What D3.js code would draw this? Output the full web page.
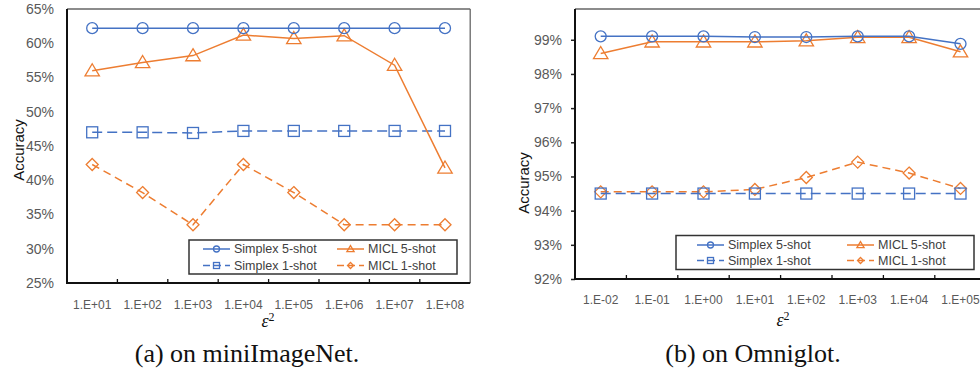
<!DOCTYPE html>
<html><head><meta charset="utf-8">
<script src="https://cdn.jsdelivr.net/npm/d3@7/dist/d3.min.js"></script>
<style>body{margin:0;background:#fff}svg{display:block}</style>
</head><body>
<svg id="c" width="980" height="368"></svg>
<script>
// ---- data ----
const catsA = ["1.E+01","1.E+02","1.E+03","1.E+04","1.E+05","1.E+06","1.E+07","1.E+08"];
const simplex5A = [62.2,62.2,62.2,62.2,62.2,62.2,62.2,62.2];
const micl5A    = [56.0,57.2,58.2,61.2,60.7,61.1,56.8,41.8];
const simplex1A = [47.0,47.0,46.9,47.2,47.2,47.2,47.2,47.2];
const micl1A    = [42.3,38.2,33.5,42.3,38.2,33.5,33.5,33.5];
const yTicksA = [25,30,35,40,45,50,55,60,65];

const catsB = ["1.E-02","1.E-01","1.E+00","1.E+01","1.E+02","1.E+03","1.E+04","1.E+05"];
const simplex5B = [99.10,99.10,99.10,99.08,99.08,99.10,99.10,98.88];
const micl5B    = [98.60,98.94,98.94,98.94,98.97,99.07,99.07,98.65];
const simplex1B = [94.50,94.50,94.50,94.50,94.50,94.50,94.50,94.50];
const micl1B    = [94.55,94.55,94.55,94.62,94.97,95.42,95.10,94.65];
const yTicksB = [92,93,94,95,96,97,98,99];

const seriesNames = ["Simplex 5-shot","MICL 5-shot","Simplex 1-shot","MICL 1-shot"];
const captions = ["(a) on miniImageNet.","(b) on Omniglot."];

const BLUE="#4472C4", ORANGE="#ED7D31", TICK="#595959";
const svg = d3.select("#c");

function marker(g, type, x, y, s, color){
  if(type==="circle"){
    g.append("circle").attr("cx",x).attr("cy",y).attr("r",s).attr("fill","none").attr("stroke",color).attr("stroke-width",1.3);
  } else if(type==="square"){
    g.append("rect").attr("x",x-s).attr("y",y-s).attr("width",2*s).attr("height",2*s).attr("fill","none").attr("stroke",color).attr("stroke-width",1.3);
  } else if(type==="triangle"){
    const h=s*1.15;
    g.append("path").attr("d",`M${x},${y-h} L${x+s*1.2},${y+h*0.75} L${x-s*1.2},${y+h*0.75} Z`).attr("fill","none").attr("stroke",color).attr("stroke-width",1.3);
  } else {
    g.append("path").attr("d",`M${x},${y-s} L${x+s},${y} L${x},${y+s} L${x-s},${y} Z`).attr("fill","none").attr("stroke",color).attr("stroke-width",1.3);
  }
}

function chart(o){
  const g = svg.append("g");
  const x = d3.scaleBand().domain(o.cats).range([o.left,o.left+o.band*8]);
  const y = d3.scaleLinear().domain(o.ydom).range([o.bottom,o.top]);
  const right = Math.min(o.left+o.band*8, 980);
  // frame
  g.append("line").attr("x1",o.left).attr("x2",right).attr("y1",o.top).attr("y2",o.top).attr("stroke","#666").attr("stroke-width",1.3);
  if(o.left+o.band*8<=980) g.append("line").attr("x1",right).attr("x2",right).attr("y1",o.top).attr("y2",o.bottom).attr("stroke","#666").attr("stroke-width",1.3);
  // y axis
  const ya = g.append("g").attr("transform",`translate(${o.left},0)`)
    .call(d3.axisLeft(y).tickValues(o.yticks).tickFormat(d=>d+"%").tickSize(o.yTickSize).tickPadding(o.yPad));
  ya.select(".domain").remove();
  ya.selectAll("line").attr("stroke","#222").attr("stroke-width",1.5);
  ya.selectAll("text").attr("fill",TICK).style("font-family","Liberation Sans, Arial, sans-serif").style("font-size","14px");
  g.append("line").attr("x1",o.left).attr("x2",o.left).attr("y1",o.top).attr("y2",o.bottom+1).attr("stroke","#111").attr("stroke-width",2);
  // x axis
  const xa = g.append("g").attr("transform",`translate(0,${o.bottom})`)
    .call(d3.axisBottom(x).tickSize(0).tickPadding(o.xPad));
  xa.select(".domain").remove();
  xa.selectAll("text").attr("fill",TICK).style("font-family","Liberation Sans, Arial, sans-serif").style("font-size","12px");
  const bounds = o.cats.slice(1).map(c=>x(c));
  g.selectAll(null).data(bounds).enter().append("line")
    .attr("x1",d=>d).attr("x2",d=>d).attr("y1",o.bottom).attr("y2",o.bottom-4).attr("stroke","#111").attr("stroke-width",1.3);
  g.append("line").attr("x1",o.left-1).attr("x2",right).attr("y1",o.bottom).attr("y2",o.bottom).attr("stroke","#111").attr("stroke-width",2);
  // titles
  g.append("text").attr("transform",`translate(${o.ytx},${o.yty}) rotate(-90)`).attr("text-anchor","middle").attr("dominant-baseline","central")
    .style("font-family","Liberation Sans, Arial, sans-serif").style("font-size","15px").attr("fill","#111").text("Accuracy");
  const xt = g.append("text").attr("x",o.xtx).attr("y",o.xty).attr("text-anchor","middle")
    .style("font-family","Liberation Serif, Times New Roman, serif").style("font-size","18px").attr("fill","#111");
  xt.append("tspan").style("font-style","italic").text("ε");
  xt.append("tspan").attr("dy",-6).style("font-size","12px").text("2");
  g.append("text").attr("x",o.capx).attr("y",362).attr("text-anchor","middle")
    .style("font-family","Liberation Serif, Times New Roman, serif").style("font-size","26px").attr("fill","#111").text(o.caption);
  // series
  const cx = c=>x(c)+x.bandwidth()/2;
  const series = [
    {v:o.s5, c:BLUE, m:"circle", dash:null, s:5.5},
    {v:o.m5, c:ORANGE, m:"triangle", dash:null, s:6},
    {v:o.s1, c:BLUE, m:"square", dash:"10,5", s:5.5},
    {v:o.m1, c:ORANGE, m:"diamond", dash:"8,5", s:6}
  ];
  const plot = g.append("g");
  const line = d3.line().x((d,i)=>cx(o.cats[i])).y(d=>y(d));
  series.slice().reverse().forEach(s=>{
    plot.append("path").datum(s.v).attr("d",line).attr("fill","none").attr("stroke",s.c).attr("stroke-width",1.5)
      .attr("stroke-dasharray",s.dash);
    s.v.forEach((d,i)=>marker(plot,s.m,cx(o.cats[i]),y(d),s.s,s.c));
  });
  // legend
  const L=o.leg;
  g.append("rect").attr("x",L.x).attr("y",L.y).attr("width",L.w).attr("height",L.h).attr("fill","#fff").attr("stroke","#333").attr("stroke-width",1.5);
  const pos = [[0,0],[1,0],[0,1],[1,1]];
  series.forEach((s,i)=>{
    const px = L.x + L.c[pos[i][0]], py = L.y + L.r[pos[i][1]];
    g.append("line").attr("x1",px).attr("x2",px+27).attr("y1",py).attr("y2",py).attr("stroke",s.c).attr("stroke-width",1.5).attr("stroke-dasharray",s.dash?"7,4":null);
    marker(g,s.m,px+13.5,py,3,s.c);
    g.append("text").attr("x",px+31).attr("y",py).attr("dominant-baseline","central")
      .style("font-family","Liberation Sans, Arial, sans-serif").style("font-size","12.5px").attr("fill","#404040").text(seriesNames[i]);
  });
}

chart({cats:catsA, ydom:[25,65], yticks:yTicksA, left:67, band:50.4, top:9, bottom:283,
  yTickSize:0, yPad:13, xPad:17, s5:simplex5A, m5:micl5A, s1:simplex1A, m1:micl1A,
  ytx:18, yty:150, xtx:268, xty:327, capx:247, caption:captions[0],
  leg:{x:189,y:240,w:268,h:34,c:[14,148],r:[9,25.5]}});

chart({cats:catsB, ydom:[92,99.9], yticks:yTicksB, left:575, band:51.4, top:9, bottom:279,
  yTickSize:4, yPad:9, xPad:16, s5:simplex5B, m5:micl5B, s1:simplex1B, m1:micl1B,
  ytx:523, yty:183, xtx:783, xty:326, capx:753, caption:captions[1],
  leg:{x:676,y:235.5,w:298,h:34,c:[21,171],r:[9.5,25]}});
</script>
</body></html>
